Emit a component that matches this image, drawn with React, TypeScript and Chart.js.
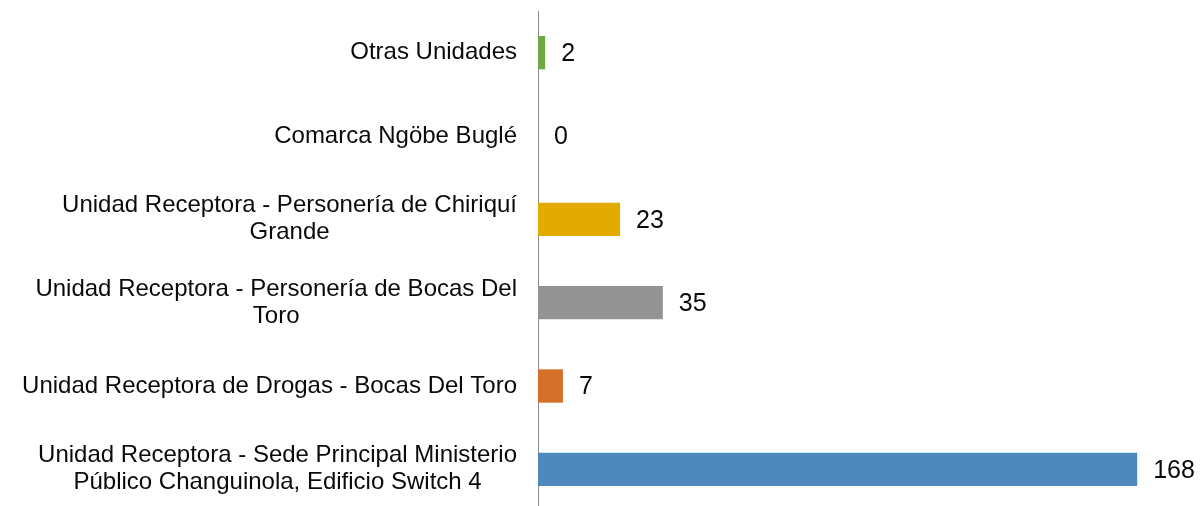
import React, { useEffect, useRef } from "react";
import { Chart, registerables } from "chart.js";

Chart.register(...registerables);

const categories: string[][] = [
  ["Otras Unidades"],
  ["Comarca Ngöbe Buglé"],
  ["Unidad Receptora - Personería de Chiriquí", "Grande"],
  ["Unidad Receptora - Personería de Bocas Del", "Toro"],
  ["Unidad Receptora de Drogas - Bocas Del Toro"],
  ["Unidad Receptora - Sede Principal Ministerio", "Público Changuinola, Edificio Switch 4"],
];
const values: number[] = [2, 0, 23, 35, 7, 168];
const barColors: string[] = ["#6FA845", "#A5A5A5", "#E3AA00", "#939393", "#D5702B", "#4F88BC"];
const xMax = 180;

const FONT = '"Liberation Sans", Arial, sans-serif';

const labelPlugin = {
  id: "customLabels",
  afterDatasetsDraw(chart: any) {
    const ctx = chart.ctx;
    const meta = chart.getDatasetMeta(0);
    const yScale = chart.scales.y;
    const area = chart.chartArea;
    ctx.save();
    ctx.fillStyle = "#0a0a0a";
    // category labels
    ctx.font = `24px ${FONT}`;
    ctx.textBaseline = "middle";
    ctx.textAlign = "center";
    const lineH = 27;
    categories.forEach((lines, i) => {
      const cy = yScale.getPixelForValue(i);
      const w = Math.max(...lines.map((l) => ctx.measureText(l).width));
      const right = area.left - 21;
      const cx = right - w / 2;
      const start = cy - ((lines.length - 1) * lineH) / 2;
      lines.forEach((l, k) => ctx.fillText(l, cx, start + k * lineH));
    });
    // value labels
    ctx.font = `25px ${FONT}`;
    ctx.textAlign = "left";
    meta.data.forEach((bar: any, i: number) => {
      ctx.fillText(String(values[i]), bar.x + 16, bar.y + 1.5);
    });
    ctx.restore();
  },
};

export default function App() {
  const ref = useRef<HTMLCanvasElement>(null);
  useEffect(() => {
    document.body.style.margin = "0";
    const chart = new Chart(ref.current!, {
      type: "bar",
      data: {
        labels: categories.map((c) => c.join(" ")),
        datasets: [
          {
            data: values,
            backgroundColor: barColors,
            borderWidth: 0,
            barPercentage: 1,
            categoryPercentage: 0.4,
          },
        ],
      },
      options: {
        indexAxis: "y",
        responsive: false,
        animation: false,
        layout: { padding: { left: 0, right: 23, top: 11, bottom: 9 } },
        plugins: { legend: { display: false }, tooltip: { enabled: false } },
        scales: {
          x: { display: false, min: 0, max: xMax },
          y: {
            display: true,
            grid: { display: false, drawTicks: false },
            ticks: { display: false },
            border: { display: true, color: "#8c8c8c", width: 1 },
            afterFit: (scale: any) => {
              scale.width = 538;
            },
          },
        },
      },
      plugins: [labelPlugin],
    });
    return () => chart.destroy();
  }, []);
  return (
    <div style={{ position: "absolute", left: 0, top: 0, width: 1203, height: 506, overflow: "hidden" }}>
      <canvas ref={ref} width={1203} height={520} style={{ display: "block" }} />
    </div>
  );
}
